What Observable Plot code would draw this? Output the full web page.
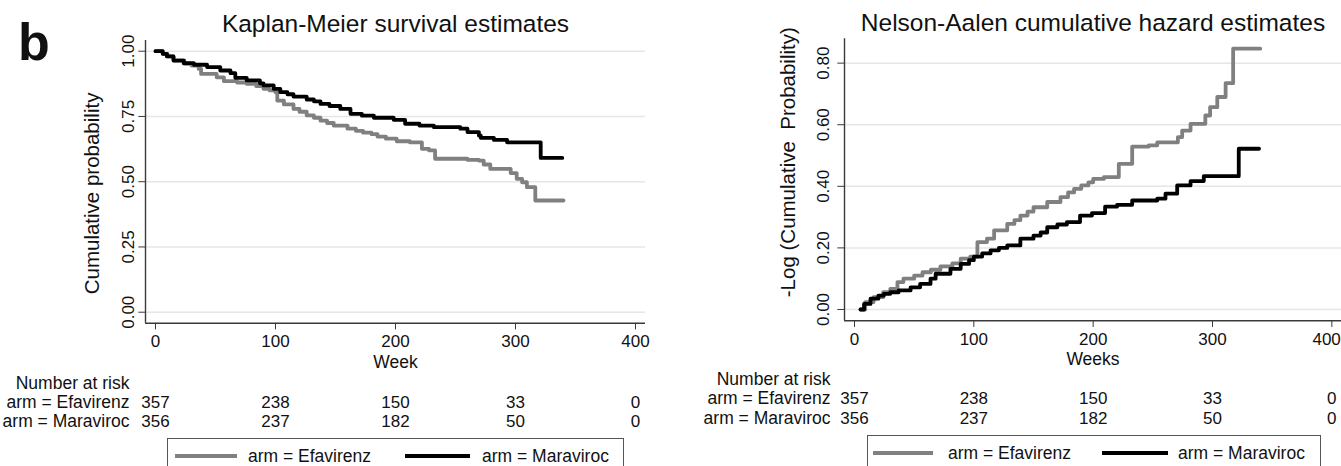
<!DOCTYPE html>
<html><head><meta charset="utf-8">
<script src="https://cdn.jsdelivr.net/npm/d3@7"></script>
<script src="https://cdn.jsdelivr.net/npm/@observablehq/plot@0.6"></script>
<style>
body{margin:0;background:#fff;}
#wrap{position:relative;width:1341px;height:466px;overflow:hidden;background:#fff;font-family:"Liberation Sans",Arial,Helvetica,sans-serif;color:#111;}
#left{position:absolute;left:0;top:0;}
#right{position:absolute;left:670px;top:0;}
#tag{position:absolute;left:18px;top:16px;font:bold 52px/1 "Liberation Sans",Arial,sans-serif;}
.lg{position:absolute;border:1.5px solid #555;background:#fff;height:60px;}
.lgline{position:absolute;height:4px;}
.lgtext{position:absolute;font-size:17.5px;line-height:20px;white-space:nowrap;}
</style></head><body>
<div id="wrap"><div id="left"></div><div id="right"></div><div id="tag">b</div></div>
<script>
const FONT = '"Liberation Sans",Arial,Helvetica,sans-serif';
const arms = ["Efavirenz", "Maraviroc"];
const armColors = ["#808080", "#000000"];

// Kaplan-Meier survival estimates (step-after)
const kmWeeksEfavirenz = [0,6,10,15,24,30,36,38,51,57,68,76,84,90,95,100,101.5,107,115,120,126,132,137.5,143,148.5,160,167,173,180,185,192,201,212,222,228,233,260,269.5,273.5,279,296,301,305.5,309.5,316.5,340];
const kmSurvEfavirenz  = [1,0.99,0.98,0.965,0.952,0.945,0.932,0.913,0.900,0.885,0.880,0.875,0.866,0.856,0.850,0.843,0.811,0.796,0.779,0.768,0.754,0.745,0.734,0.725,0.715,0.703,0.695,0.688,0.682,0.673,0.665,0.655,0.651,0.626,0.620,0.588,0.584,0.581,0.566,0.549,0.533,0.511,0.498,0.479,0.428,0.428];
const kmWeeksMaraviroc = [0,6,9.5,15,23.5,32,43,54,62.5,66.5,76,87,90,98.5,104,110,115,126,132,137.5,145,154,162.5,172,182,198.5,208,220,232,254,260,269.5,271,282,293,321,339];
const kmSurvMaraviroc  = [1,0.99,0.980,0.964,0.954,0.948,0.939,0.926,0.916,0.898,0.888,0.877,0.869,0.856,0.843,0.835,0.826,0.815,0.808,0.798,0.790,0.779,0.760,0.753,0.745,0.737,0.722,0.715,0.709,0.703,0.690,0.677,0.668,0.660,0.651,0.591,0.591];

// Nelson-Aalen cumulative hazard estimates (step-after)
const naWeeksEfavirenz = [5,9,16,24,30,36,41,50,57,64,72,82,89,97,103,111,117,128,134,139,145,150,161.5,172.6,179,184,190,196,200,209,221.5,232.7,246.6,253.7,271,274.6,281.6,294,298,304,311,317.3,340];
const naHazEfavirenz   = [0,0.024,0.040,0.056,0.067,0.089,0.100,0.110,0.121,0.129,0.140,0.150,0.165,0.172,0.219,0.230,0.257,0.278,0.290,0.305,0.318,0.332,0.349,0.365,0.380,0.392,0.403,0.413,0.424,0.430,0.473,0.529,0.533,0.543,0.560,0.581,0.603,0.630,0.657,0.690,0.735,0.847,0.847];
const naWeeksMaraviroc = [5,8,13.4,20,24.6,30,37,47,55,63.7,68,80.4,89,96,100,107,114,121,128,139,150,156,161.5,170,178,189,199,210,220,232.7,253.7,260.6,270.4,281.6,292.7,322,339];
const naHazMaraviroc   = [0,0.018,0.035,0.045,0.051,0.056,0.062,0.072,0.083,0.100,0.116,0.132,0.148,0.160,0.172,0.182,0.192,0.200,0.208,0.230,0.240,0.250,0.267,0.276,0.284,0.305,0.313,0.334,0.340,0.354,0.360,0.376,0.403,0.417,0.433,0.522,0.522];

// Axis ticks
const xTicks = [0, 100, 200, 300, 400];
const kmYTicks = [0, 0.25, 0.5, 0.75, 1];
const naYTicks = [0, 0.2, 0.4, 0.6, 0.8];

// Number at risk
const riskTimes = [0, 100, 200, 300, 400];
const riskEfavirenz = [357, 238, 150, 33, 0];
const riskMaraviroc = [356, 237, 182, 50, 0];

function toRows(arm, ws, vs) { return ws.map((w, i) => ({arm, w, v: vs[i]})); }

function panel(c) {
  const data = [...toRows(arms[0], c.w0, c.v0), ...toRows(arms[1], c.w1, c.v1)];
  const lastTick = xTicks[xTicks.length - 1];
  const xLabelMarks = c.clipLast
    ? [
        Plot.text(xTicks.slice(0, -1), {x: d => d, text: d => String(d), frameAnchor: "bottom", lineAnchor: "top", dy: 6.7 + c.xPad, fontSize: 17}),
        Plot.text([lastTick], {x: d => d, text: d => String(d), frameAnchor: "bottom", lineAnchor: "top", textAnchor: "end", dx: 9, dy: 6.7 + c.xPad, fontSize: 17})
      ]
    : [Plot.text(xTicks, {x: d => d, text: d => String(d), frameAnchor: "bottom", lineAnchor: "top", dy: 6.7 + c.xPad, fontSize: 17})];
  return Plot.plot({
    width: c.width, height: c.height,
    marginLeft: c.mL, marginRight: c.mR, marginTop: c.mT, marginBottom: c.mB,
    x: {domain: c.xDom},
    y: {domain: c.yDom},
    color: {domain: arms, range: armColors},
    style: {fontFamily: FONT, fontSize: "17px", color: "#111", background: "transparent"},
    marks: [
      Plot.gridY(c.yTicks, {stroke: "#e6e6e6", strokeOpacity: 1, strokeWidth: 1.5}),
      Plot.line(data, {x: "w", y: "v", z: "arm", stroke: "arm", curve: "step-after", strokeWidth: 3.8}),
      Plot.ruleX([c.xDom[0]], {stroke: "#3a3a3a", strokeWidth: 1.4}),
      Plot.ruleY([c.yDom[0]], {stroke: "#3a3a3a", strokeWidth: 1.4}),
      Plot.axisY({ticks: c.yTicks, tickRotate: -90, tickSize: 6.7, tickPadding: c.yPad, tickFormat: d3.format(".2f"), label: null, fontSize: 17, stroke: "#3a3a3a"}),
      Plot.axisX({ticks: xTicks, tickSize: 6.7, tickFormat: () => "", label: null, stroke: "#3a3a3a"}),
      ...xLabelMarks,
      Plot.text([c.title], {frameAnchor: "top", lineAnchor: "bottom", dy: c.titleDy, fontSize: 24.5}),
      Plot.text([c.yTitle], {frameAnchor: "left", rotate: -90, lineAnchor: "middle", textAnchor: "middle", dx: c.yTitleDx, dy: c.yTitleDy, fontSize: 20.5}),
      Plot.text([c.xTitle], {frameAnchor: "bottom", lineAnchor: "middle", dy: c.xTitleDy, fontSize: 17.5}),
      Plot.text(["Number at risk"], {frameAnchor: "bottom-left", textAnchor: "end", lineAnchor: "middle", dx: c.labDx, dy: c.r0, fontSize: 17.5}),
      Plot.text(["arm = Efavirenz"], {frameAnchor: "bottom-left", textAnchor: "end", lineAnchor: "middle", dx: c.labDx, dy: c.r1, fontSize: 17.5}),
      Plot.text(["arm = Maraviroc"], {frameAnchor: "bottom-left", textAnchor: "end", lineAnchor: "middle", dx: c.labDx, dy: c.r2, fontSize: 17.5}),
      Plot.text(riskTimes, {x: d => d, text: (d, i) => String(riskEfavirenz[i]), frameAnchor: "bottom", lineAnchor: "middle", dy: c.r1, fontSize: 17}),
      Plot.text(riskTimes, {x: d => d, text: (d, i) => String(riskMaraviroc[i]), frameAnchor: "bottom", lineAnchor: "middle", dy: c.r2, fontSize: 17})
    ]
  });
}

document.getElementById("left").append(panel({
  width: 670, height: 466, mL: 145, mR: 25, mT: 40, mB: 143.3,
  xDom: [-8.333, 408.333], yDom: [-0.0421, 1.041],
  yTicks: kmYTicks, yPad: 5, xPad: 5.3, clipLast: false,
  w0: kmWeeksEfavirenz, v0: kmSurvEfavirenz, w1: kmWeeksMaraviroc, v1: kmSurvMaraviroc,
  title: "Kaplan-Meier survival estimates", titleDy: -8.3,
  yTitle: "Cumulative probability", yTitleDx: -53.3, yTitleDy: 11.6,
  xTitle: "Week", xTitleDy: 39,
  labDx: -16, r0: 60, r1: 79, r2: 98
}));

document.getElementById("right").append(panel({
  width: 671, height: 466, mL: 174, mR: 0, mT: 38.3, mB: 145.7,
  xDom: [-8.38, 408.1], yDom: [-0.0367, 0.879],
  yTicks: naYTicks, yPad: 9, xPad: 5.3, clipLast: true,
  w0: naWeeksEfavirenz, v0: naHazEfavirenz, w1: naWeeksMaraviroc, v1: naHazMaraviroc,
  title: "Nelson-Aalen cumulative hazard estimates", titleDy: -8.3,
  yTitle: "-Log (Cumulative\u00a0 Probability)", yTitleDx: -56, yTitleDy: -17.6,
  xTitle: "Weeks", xTitleDy: 39,
  labDx: -14, r0: 58.7, r1: 77.7, r2: 97.7
}));

// Legends (below each risk table)
function legend(box, items) {
  const wrap = document.getElementById("wrap");
  const b = document.createElement("div");
  b.className = "lg";
  b.style.left = box.left + "px"; b.style.top = box.top + "px"; b.style.width = box.width + "px";
  wrap.append(b);
  items.forEach((it, i) => {
    const l = document.createElement("div");
    l.className = "lgline";
    l.style.left = it.x0 + "px"; l.style.width = (it.x1 - it.x0) + "px";
    l.style.top = (box.cy - 2) + "px"; l.style.background = armColors[i];
    wrap.append(l);
    const t = document.createElement("div");
    t.className = "lgtext";
    t.style.left = it.tx + "px"; t.style.top = (box.cy - 10) + "px";
    t.textContent = "arm = " + arms[i];
    wrap.append(t);
  });
}
legend({left: 166.5, top: 437.5, width: 455, cy: 456}, [{x0: 175, x1: 237, tx: 248}, {x0: 405, x1: 470, tx: 482}]);
legend({left: 866.5, top: 435, width: 452, cy: 453}, [{x0: 873, x1: 933, tx: 948}, {x0: 1102, x1: 1168, tx: 1178}]);
</script>
</body></html>
